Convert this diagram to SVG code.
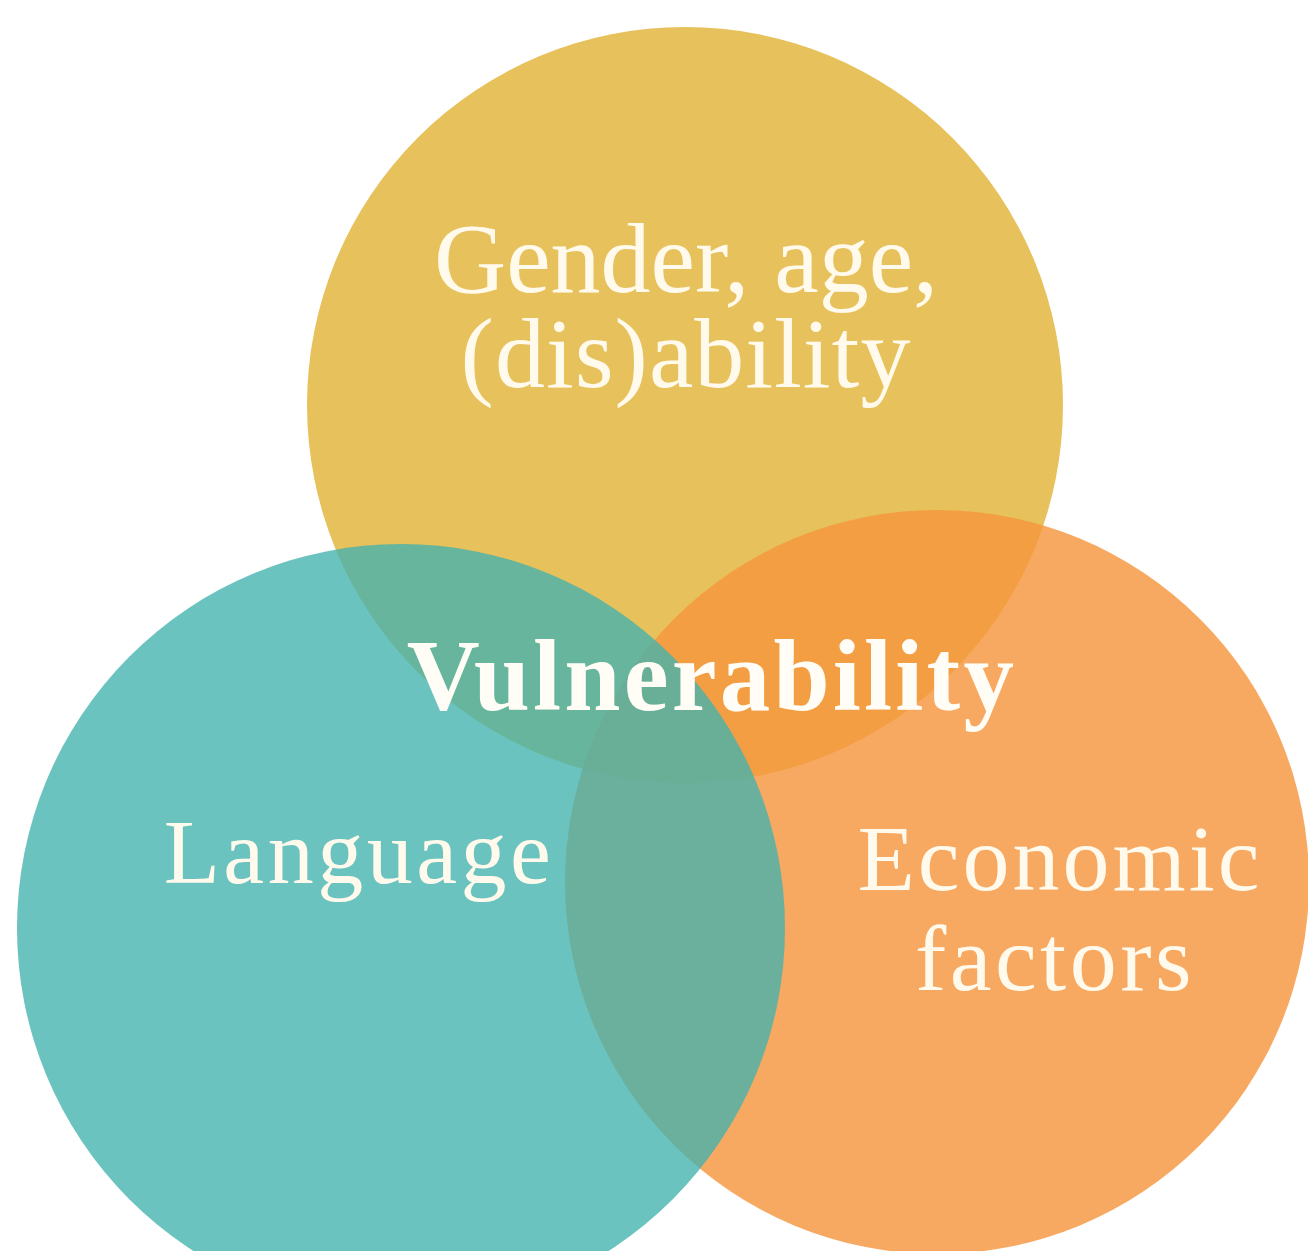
<svg xmlns="http://www.w3.org/2000/svg" width="1308" height="1251" viewBox="0 0 1308 1251">
  <style>
    .lbl { font-family: "Liberation Serif", "Times New Roman", serif; fill: #FFFAEC; text-anchor: middle; }
    .title { font-family: "Liberation Serif", "Times New Roman", serif; font-weight: bold; fill: #FFFDF6; text-anchor: middle; }
  </style>
  <rect x="0" y="0" width="1308" height="1251" fill="#FFFFFF"/>
  <g id="node-gender">
    <circle cx="685" cy="405" r="378" fill="#E7C15B"/>
    <text class="lbl" x="686" y="292" font-size="100">Gender, age,</text>
    <text class="lbl" x="686" y="387" font-size="100" letter-spacing="1">(dis)ability</text>
  </g>
  <g id="node-economic">
    <circle cx="937" cy="882" r="372" fill="#F7963E" fill-opacity="0.82"/>
    <text class="lbl" x="1060" y="890" font-size="94" letter-spacing="3">Economic</text>
    <text class="lbl" x="1055" y="990" font-size="94" letter-spacing="3.5">factors</text>
  </g>
  <g id="node-language">
    <circle cx="401" cy="928" r="384" fill="#41B2AE" fill-opacity="0.78"/>
    <text class="lbl" x="359" y="883" font-size="92" letter-spacing="3.5">Language</text>
  </g>
  <g id="connectors"/>
  <g id="node-vulnerability">
    <text class="title" x="712" y="710" font-size="101" letter-spacing="3.2">Vulnerability</text>
  </g>
</svg>
